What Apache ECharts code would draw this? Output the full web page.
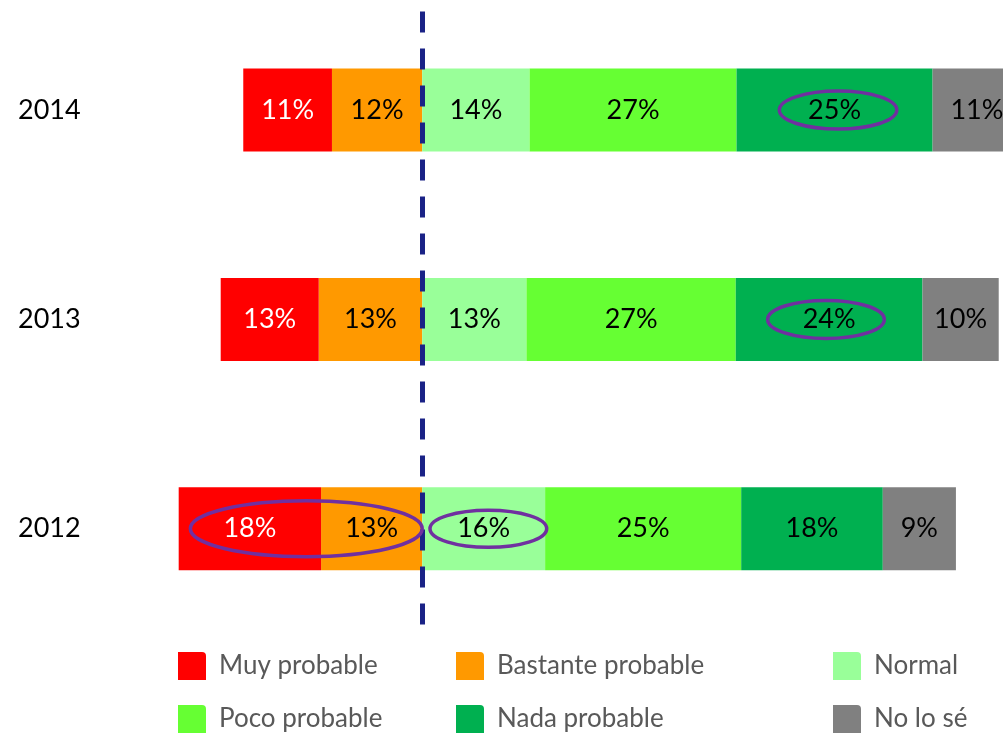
<!DOCTYPE html>
<html>
<head>
<meta charset="utf-8">
<style>
  html, body { margin: 0; padding: 0; background: #fff; }
  #chart { width: 1003px; height: 733px; }
</style>
<script src="https://cdn.jsdelivr.net/npm/echarts@6/dist/echarts.min.js"></script>
</head>
<body>
<div id="chart"></div>
<script>
// years from bottom to top
const years = ['2012', '2013', '2014'];

// shares in %, one value per year (2012, 2013, 2014)
const muyProbable = [18.3, 12.6, 11.4];
const bastanteProbable = [13.0, 13.3, 11.6];
const normal = [15.8, 13.4, 13.8];
const pocoProbable = [25.2, 26.9, 26.6];
const nadaProbable = [18.2, 24.0, 25.2];
const noLoSe = [9.4, 9.8, 11.4];

// highlighted ranges (year, from %, to %) on the diverging axis
const ovalYears = ['2014', '2013', '2012', '2012'];
const ovalFrom = [45.9, 44.4, -29.8, 1.0];
const ovalTo = [61.0, 59.4, 0.0, 16.0];

const font = 'Lato, "Open Sans", sans-serif';
const ovalHeights = [19, 19, 28, 18.5];

const chart = echarts.init(document.getElementById('chart'));

const makeSeries = (name, values, color, negative, labelColor) => ({
  name,
  type: 'bar',
  stack: 'total',
  barWidth: 83,
  clip: false,
  data: values.map(v => (negative ? -v : v)),
  itemStyle: { color },
  emphasis: { disabled: true },
  label: {
    show: true,
    position: 'inside',
    fontFamily: font,
    fontSize: 27,
    color: labelColor,
    formatter: p => Math.round(Math.abs(p.value)) + '%'
  }
});

// negative values stack outward from zero, so the orange one goes first
let series = [
  makeSeries('Bastante probable', bastanteProbable, '#FF9900', true, '#000'),
  makeSeries('Muy probable', muyProbable, '#FF0000', true, '#fff'),
  makeSeries('Normal', normal, '#99FF99', false, '#000'),
  makeSeries('Poco probable', pocoProbable, '#66FF33', false, '#000'),
  makeSeries('Nada probable', nadaProbable, '#00B050', false, '#000'),
  makeSeries('No lo sé', noLoSe, '#808080', false, '#000')
];

series[0].markLine = {
  silent: true,
  symbol: 'none',
  label: { show: false },
  lineStyle: {
    color: '#1A2286',
    width: 5,
    type: [21, 16],
    dashOffset: 28
  },
  data: [{ xAxis: 0 }]
};

const legendBase = {
  orient: 'vertical',
  top: 652,
  padding: 0,
  itemWidth: 28,
  itemHeight: 28,
  itemGap: 25,
  icon: 'path://M0,0 L24,0 Q28,0 28,4 L28,28 L0,28 Z',
  selectedMode: false,
  textStyle: {
    fontFamily: font,
    fontSize: 26,
    color: '#595959',
    lineHeight: 28,
    padding: [0, 0, 0, 8]
  }
};

chart.setOption({
  animation: false,
  // the 2014 bar runs past the right edge, so the axis stops at the canvas edge
  grid: { left: 111, top: 5.4, right: 0, height: 628 },
  xAxis: {
    type: 'value',
    min: -40,
    max: 74.65,
    show: false
  },
  yAxis: {
    type: 'category',
    data: years,
    axisLine: { show: false },
    axisTick: { show: false },
    axisLabel: {
      align: 'left',
      margin: 93,
      fontFamily: font,
      fontSize: 27,
      color: '#000'
    }
  },
  legend: [
    Object.assign({}, legendBase, { left: 178, data: ['Muy probable', 'Poco probable'] }),
    Object.assign({}, legendBase, { left: 456, data: ['Bastante probable', 'Nada probable'] }),
    Object.assign({}, legendBase, { left: 833, data: ['Normal', 'No lo sé'] })
  ],
  series
});

// purple ovals around the highlighted values
const ovals = ovalYears.map((year, i) => {
  const a = chart.convertToPixel({ gridIndex: 0 }, [ovalFrom[i], year]);
  const b = chart.convertToPixel({ gridIndex: 0 }, [ovalTo[i], year]);
  return {
    type: 'ellipse',
    silent: true,
    z: 100,
    shape: {
      cx: (a[0] + b[0]) / 2,
      cy: a[1],
      rx: Math.abs(b[0] - a[0]) / 2,
      ry: ovalHeights[i]
    },
    style: { fill: 'none', stroke: '#7030A0', lineWidth: 3.5 }
  };
});

chart.setOption({ graphic: ovals });
</script>
</body>
</html>
